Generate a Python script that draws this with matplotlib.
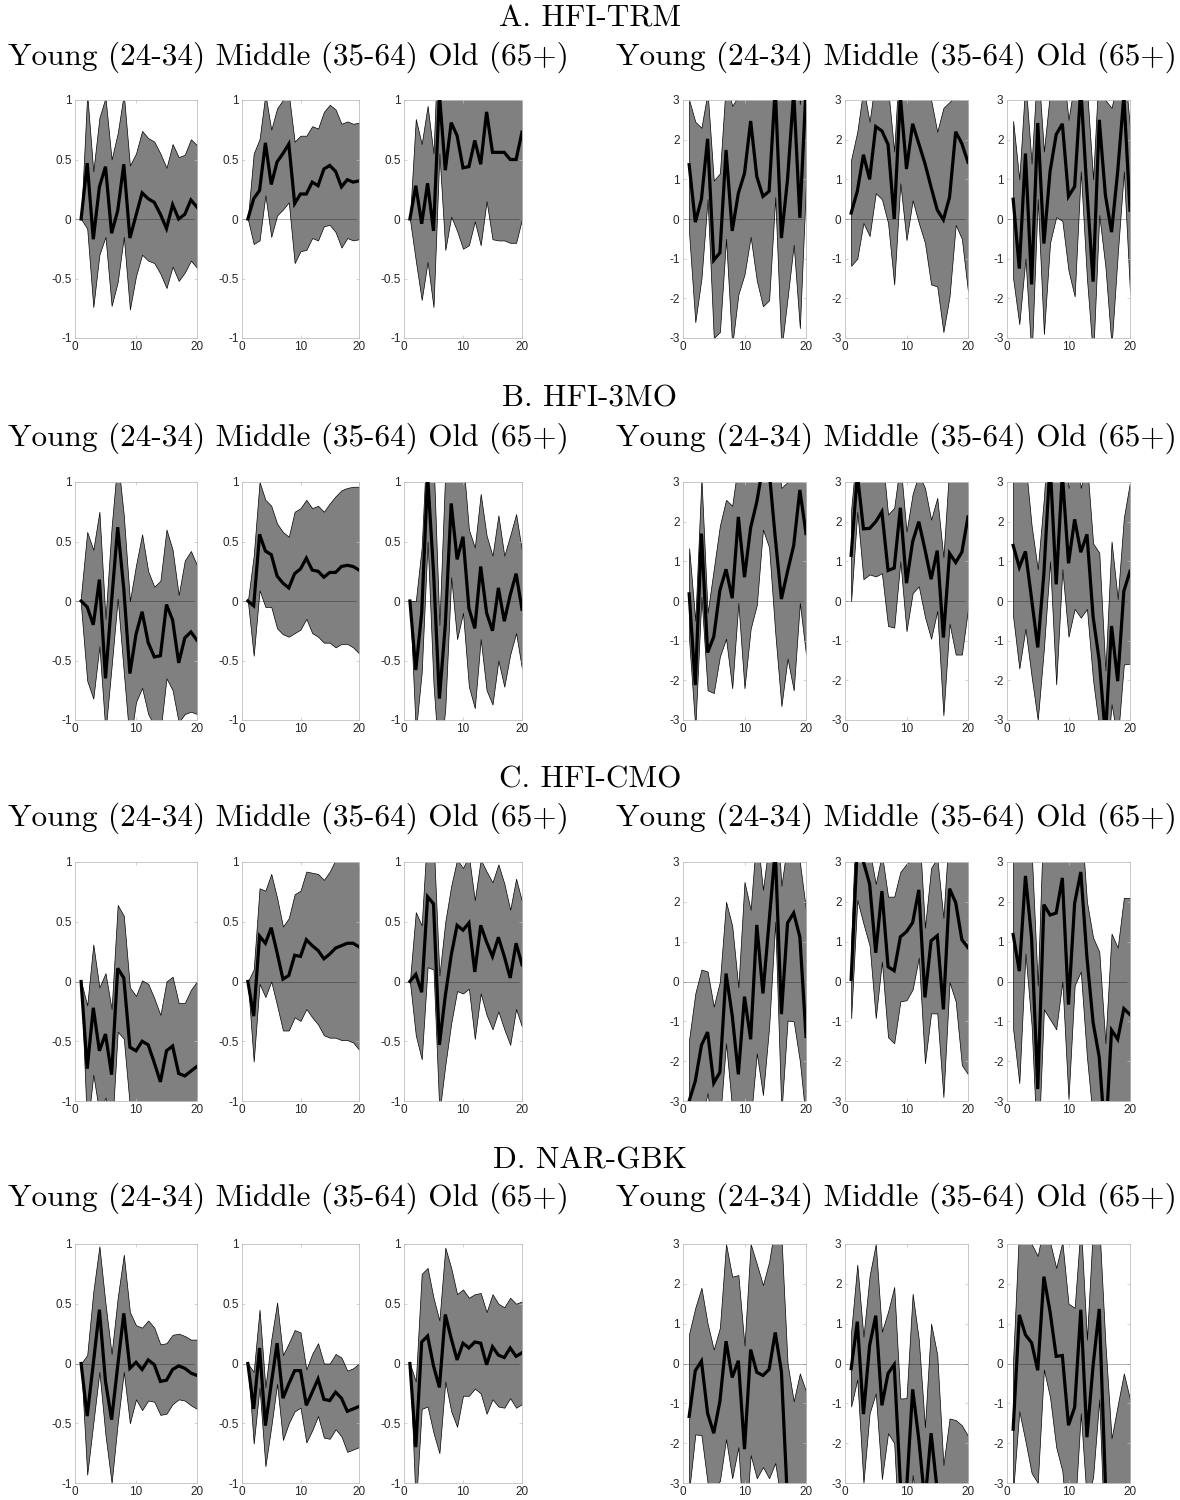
import numpy as np
import matplotlib
matplotlib.use('Agg')
import matplotlib.pyplot as plt
from matplotlib.ticker import FormatStrFormatter

plt.rcParams['axes.unicode_minus'] = False
plt.rcParams['font.family'] = ['Liberation Sans', 'DejaVu Sans']

horizon = np.arange(1, 21)
groups = ['Young (24-34)', 'Middle (35-64)', 'Old (65+)']
panel_titles = ['A. HFI-TRM', 'B. HFI-3MO', 'C. HFI-CMO', 'D. NAR-GBK']

# ---- A. HFI-TRM ----
a_left_irf = [
    [0, 0.47, -0.17, 0.27, 0.44, -0.12, 0.07, 0.46, -0.16, 0.03, 0.22, 0.17, 0.14, 0.04, -0.08, 0.12, 0.0, 0.04, 0.16, 0.10],
    [0, 0.17, 0.24, 0.64, 0.29, 0.48, 0.55, 0.63, 0.13, 0.21, 0.21, 0.31, 0.28, 0.42, 0.45, 0.40, 0.27, 0.33, 0.31, 0.32],
    [0, 0.28, -0.04, 0.30, -0.10, 1.05, 0.41, 0.81, 0.70, 0.43, 0.44, 0.66, 0.46, 0.90, 0.56, 0.56, 0.56, 0.50, 0.50, 0.73],
]
a_left_lo = [
    [0, -0.08, -0.74, -0.30, -0.15, -0.73, -0.53, -0.15, -0.76, -0.48, -0.30, -0.35, -0.37, -0.46, -0.58, -0.40, -0.52, -0.45, -0.35, -0.41],
    [0, -0.21, -0.18, 0.20, -0.15, 0.03, 0.08, 0.14, -0.37, -0.27, -0.26, -0.16, -0.18, -0.06, -0.05, -0.11, -0.24, -0.16, -0.18, -0.17],
    [0, -0.35, -0.68, -0.36, -0.74, 0.55, -0.26, 0.02, -0.10, -0.25, -0.22, -0.02, -0.22, 0.15, -0.17, -0.18, -0.18, -0.20, -0.20, 0.0],
]
a_left_hi = [
    [0, 1.05, 0.40, 0.85, 1.02, 0.50, 0.72, 1.05, 0.45, 0.55, 0.74, 0.68, 0.65, 0.55, 0.43, 0.63, 0.52, 0.54, 0.67, 0.62],
    [0, 0.55, 0.67, 1.05, 0.75, 0.93, 1.00, 1.05, 0.65, 0.70, 0.70, 0.78, 0.76, 0.90, 0.96, 0.92, 0.80, 0.82, 0.80, 0.81],
    [0, 0.84, 0.63, 0.95, 0.55, 1.80, 1.50, 1.60, 1.50, 1.40, 1.40, 1.50, 1.40, 1.60, 1.40, 1.40, 1.40, 1.40, 1.40, 1.50],
]
a_right_irf = [
    [1.37, -0.08, 0.50, 2.02, -1.04, -0.85, 1.74, -0.30, 0.65, 1.15, 2.47, 1.07, 0.57, 0.70, 3.30, -0.48, 1.00, 3.20, 0.03, 3.30],
    [0.15, 0.70, 1.62, 1.00, 2.33, 2.22, 1.88, 0.00, 3.10, 1.26, 2.40, 1.90, 1.40, 0.80, 0.23, -0.02, 0.55, 2.20, 1.90, 1.43],
    [0.50, -1.25, 1.65, -1.65, 2.42, -0.62, 1.20, 2.13, 2.40, 0.57, 0.82, 3.30, 0.70, -1.58, 2.50, 0.60, -0.33, 1.20, 3.10, 0.22],
]
a_right_lo = [
    [-0.38, -2.60, -1.50, 0.50, -3.00, -2.85, -0.50, -3.20, -1.90, -1.40, -0.45, -1.55, -2.20, -2.05, 0.55, -3.30, -2.00, -0.65, -2.75, 0.90],
    [-1.18, -1.00, -0.10, -0.43, 0.65, 0.50, -0.10, -1.65, 0.90, -0.53, 0.47, -0.10, -0.60, -1.65, -1.70, -2.85, -1.95, -0.15, -0.50, -1.83],
    [-1.50, -2.65, -1.00, -3.50, 0.50, -2.90, -0.60, 0.05, -0.05, -1.30, -1.95, 1.20, -1.50, -3.50, 0.10, -1.20, -3.20, -0.90, 1.20, -1.85],
]
a_right_hi = [
    [3.00, 2.45, 2.30, 3.20, 0.97, 1.15, 3.50, 2.85, 3.10, 3.50, 4.00, 3.80, 3.20, 3.50, 5.00, 3.20, 3.50, 5.00, 2.90, 5.00],
    [1.50, 2.20, 3.30, 2.45, 3.60, 3.50, 3.30, 1.70, 4.50, 3.00, 3.50, 3.30, 3.20, 3.00, 2.20, 2.80, 2.95, 3.10, 3.30, 3.50],
    [2.47, 1.00, 3.50, 1.40, 4.00, 1.70, 3.20, 3.50, 4.00, 2.50, 3.50, 5.00, 3.30, 1.00, 4.00, 3.00, 2.80, 3.50, 4.00, 2.30],
]

# ---- B. HFI-3MO ----
b_left_irf = [
    [0, -0.05, -0.20, 0.18, -0.65, 0.00, 0.62, 0.10, -0.61, -0.28, -0.09, -0.35, -0.47, -0.46, -0.03, -0.16, -0.52, -0.31, -0.26, -0.33],
    [0, -0.04, 0.56, 0.42, 0.39, 0.21, 0.15, 0.11, 0.23, 0.27, 0.36, 0.26, 0.25, 0.20, 0.24, 0.24, 0.29, 0.30, 0.29, 0.26],
    [0, -0.58, -0.10, 1.05, 0.25, -0.82, -0.20, 0.82, 0.35, 0.54, -0.06, -0.23, 0.29, -0.10, -0.25, 0.11, -0.17, 0.05, 0.23, -0.07],
]
b_left_lo = [
    [-0.05, -0.67, -0.82, -0.38, -1.10, -0.55, 0.02, -0.60, -1.20, -0.85, -0.73, -0.95, -1.05, -1.10, -0.65, -0.75, -1.02, -0.95, -0.93, -0.95],
    [0, -0.46, 0.09, -0.05, -0.05, -0.23, -0.28, -0.30, -0.27, -0.24, -0.15, -0.27, -0.30, -0.35, -0.35, -0.39, -0.36, -0.36, -0.39, -0.44],
    [0, -1.10, -0.60, 0.50, -0.70, -1.40, -0.90, 0.20, -0.32, -0.10, -0.72, -0.90, -0.32, -0.75, -0.87, -0.50, -0.72, -0.45, -0.27, -0.57],
]
b_left_hi = [
    [0.05, 0.58, 0.43, 0.75, -0.15, 0.62, 1.20, 0.72, 0.00, 0.30, 0.56, 0.25, 0.12, 0.17, 0.60, 0.43, 0.05, 0.34, 0.42, 0.30],
    [0, 0.38, 1.00, 0.85, 0.80, 0.65, 0.58, 0.54, 0.75, 0.78, 0.85, 0.78, 0.80, 0.75, 0.82, 0.88, 0.93, 0.95, 0.96, 0.96],
    [0, 0.00, 0.45, 1.50, 1.20, -0.20, 1.10, 1.50, 1.30, 1.20, 0.60, 0.45, 0.90, 0.55, 0.38, 0.72, 0.38, 0.55, 0.73, 0.42],
]
b_right_irf = [
    [0.18, -2.12, 1.70, -1.30, -0.90, 0.27, 0.80, 0.07, 2.12, 0.60, 1.85, 2.50, 3.40, 3.30, 1.60, 0.05, 0.75, 1.40, 2.80, 1.70],
    [1.15, 3.20, 1.82, 1.83, 2.00, 2.25, 0.77, 0.83, 2.35, 0.45, 1.50, 2.00, 1.30, 0.55, 1.27, -0.92, 1.20, 0.97, 1.23, 2.12],
    [1.40, 0.85, 1.25, 0.05, -1.17, 0.70, 3.50, 0.42, 3.20, 0.95, 2.06, 1.23, 1.68, -0.40, -1.50, -3.40, -0.63, -2.02, 0.25, 0.75],
]
b_right_lo = [
    [-1.00, -3.20, 0.10, -2.25, -2.32, -1.40, -0.95, -2.20, -0.05, -2.20, -0.70, -0.10, 1.80, 1.35, -0.80, -2.65, -1.45, -2.25, -0.05, -1.35],
    [0.00, 2.25, 0.55, 0.67, 0.62, 0.70, -0.63, -0.67, 1.00, -0.76, 0.20, 0.37, -0.40, -0.95, -0.25, -2.88, -0.57, -1.35, -1.35, -0.20],
    [-0.40, -1.70, -0.70, -1.90, -3.00, -1.20, 1.00, -2.10, 0.80, -0.90, -0.20, -0.42, -0.20, -2.00, -3.20, -4.50, -2.60, -3.50, -1.60, -1.58],
]
b_right_hi = [
    [1.33, -0.50, 3.10, -0.30, 0.80, 1.90, 2.55, 2.40, 3.50, 3.30, 3.60, 4.00, 5.00, 5.00, 4.00, 2.85, 3.00, 3.40, 4.00, 3.50],
    [2.30, 4.00, 3.50, 3.30, 3.40, 3.80, 2.18, 2.35, 3.50, 1.75, 2.70, 3.20, 2.85, 2.05, 2.60, 1.10, 3.50, 3.30, 3.20, 4.00],
    [3.20, 3.00, 3.50, 1.90, 0.80, 2.60, 5.00, 3.30, 5.00, 2.85, 4.00, 2.85, 3.50, 1.45, 1.22, -1.75, 1.50, 0.05, 2.10, 3.00],
]

# ---- C. HFI-CMO ----
c_left_irf = [
    [0, -0.73, -0.22, -0.58, -0.44, -0.78, 0.11, 0.03, -0.55, -0.58, -0.50, -0.53, -0.68, -0.84, -0.58, -0.54, -0.77, -0.79, -0.75, -0.71],
    [0, -0.29, 0.38, 0.32, 0.45, 0.24, 0.02, 0.05, 0.22, 0.21, 0.35, 0.30, 0.26, 0.19, 0.23, 0.28, 0.30, 0.32, 0.32, 0.29],
    [0, 0.06, -0.09, 0.71, 0.65, -0.53, -0.12, 0.22, 0.47, 0.43, 0.49, 0.08, 0.47, 0.33, 0.21, 0.37, 0.21, 0.03, 0.32, 0.14],
]
c_left_lo = [
    [0, -1.25, -0.78, -1.10, -0.97, -1.30, -0.42, -0.48, -1.05, -1.10, -1.05, -1.05, -1.20, -1.40, -1.20, -1.10, -1.30, -1.35, -1.35, -1.30],
    [0, -0.67, -0.02, -0.13, 0.00, -0.20, -0.41, -0.41, -0.30, -0.33, -0.23, -0.30, -0.36, -0.45, -0.47, -0.47, -0.49, -0.49, -0.51, -0.57],
    [0, -0.45, -0.65, 0.12, 0.10, -1.10, -0.70, -0.35, -0.08, -0.10, -0.06, -0.48, -0.10, -0.28, -0.40, -0.25, -0.40, -0.53, -0.23, -0.38],
]
c_left_hi = [
    [0, -0.20, 0.31, -0.05, 0.07, -0.23, 0.64, 0.55, -0.05, -0.12, 0.01, -0.02, -0.14, -0.28, 0.00, 0.04, -0.18, -0.18, -0.07, 0.00],
    [0, 0.10, 0.78, 0.76, 0.90, 0.70, 0.46, 0.53, 0.73, 0.76, 0.92, 0.91, 0.90, 0.85, 0.92, 1.02, 1.10, 1.10, 1.10, 1.10],
    [0, 0.58, 0.47, 1.30, 1.20, 0.05, 0.50, 0.80, 1.02, 0.95, 1.05, 0.68, 1.02, 0.92, 0.83, 0.98, 0.82, 0.60, 0.86, 0.67],
]
c_right_irf = [
    [-3.00, -2.50, -1.60, -1.27, -2.55, -2.28, 0.20, -0.85, -2.33, -0.38, -1.45, 1.42, -0.30, 1.50, 3.30, -0.82, 1.47, 1.72, 1.12, -1.38],
    [0.05, 3.40, 3.00, 2.45, 0.72, 2.27, 0.37, 0.27, 1.12, 1.25, 1.48, 2.30, -0.40, 1.02, 1.15, -0.70, 2.33, 1.98, 1.05, 0.85],
    [1.18, 0.26, 2.65, 1.10, -2.70, 1.93, 1.67, 1.72, 2.60, -0.58, 1.97, 2.75, 0.60, -1.03, -1.90, -4.00, -1.22, -1.45, -0.68, -0.83],
]
c_right_lo = [
    [-4.50, -4.00, -3.50, -2.80, -4.00, -3.50, -1.55, -3.20, -4.00, -3.20, -3.50, -1.80, -2.85, -1.15, 1.50, -3.30, -0.98, -1.00, -2.00, -3.50],
    [-0.92, 2.05, 1.45, 0.90, -0.92, 0.50, -1.40, -1.55, -0.50, -0.47, -0.20, 0.60, -2.05, -0.80, -0.80, -2.90, -0.02, -0.50, -2.10, -2.33],
    [-1.20, -2.55, 0.70, -1.10, -4.50, -0.70, -0.95, -1.20, 0.00, -2.95, -0.10, 0.25, -1.90, -3.50, -4.00, -6.00, -3.50, -3.50, -3.50, -3.60],
]
c_right_hi = [
    [-1.45, -0.30, 0.30, 0.25, -0.63, 0.00, 2.00, 1.40, -0.15, 2.50, 1.80, 3.80, 2.30, 3.50, 5.00, 2.40, 3.50, 3.50, 3.00, 1.80],
    [1.00, 5.00, 5.00, 3.30, 2.45, 3.20, 2.13, 2.13, 2.75, 2.95, 3.10, 4.00, 1.35, 2.85, 3.10, 1.60, 4.00, 4.00, 4.00, 4.00],
    [3.50, 3.00, 4.00, 3.30, -0.10, 4.50, 4.00, 4.00, 4.50, 3.50, 4.00, 4.20, 2.00, 1.10, 0.75, -1.55, 1.20, 0.85, 2.10, 2.10],
]

# ---- D. NAR-GBK ----
d_left_irf = [
    [0, -0.44, 0.00, 0.45, -0.15, -0.47, -0.02, 0.42, -0.04, 0.01, -0.05, 0.03, -0.01, -0.15, -0.14, -0.05, -0.02, -0.04, -0.08, -0.10],
    [0, -0.38, 0.13, -0.52, -0.17, 0.17, -0.29, -0.17, -0.06, -0.06, -0.35, -0.24, -0.13, -0.30, -0.31, -0.24, -0.29, -0.40, -0.38, -0.36],
    [0, -0.70, 0.18, 0.23, -0.02, -0.20, 0.41, 0.21, 0.03, 0.17, 0.13, 0.18, 0.17, -0.01, 0.14, 0.07, 0.05, 0.13, 0.06, 0.09],
]
d_left_lo = [
    [0, -0.93, -0.50, -0.07, -0.60, -1.00, -0.50, -0.07, -0.50, -0.30, -0.39, -0.31, -0.32, -0.43, -0.42, -0.34, -0.30, -0.31, -0.35, -0.38],
    [0, -0.67, -0.20, -0.86, -0.53, -0.17, -0.64, -0.50, -0.40, -0.37, -0.66, -0.56, -0.44, -0.62, -0.63, -0.55, -0.61, -0.74, -0.72, -0.70],
    [0, -1.20, -0.38, -0.36, -0.58, -0.75, -0.15, -0.40, -0.53, -0.27, -0.27, -0.21, -0.25, -0.42, -0.30, -0.36, -0.37, -0.29, -0.37, -0.34],
]
d_left_hi = [
    [0, 0.07, 0.60, 0.98, 0.50, 0.08, 0.55, 0.91, 0.43, 0.32, 0.30, 0.36, 0.30, 0.16, 0.17, 0.24, 0.25, 0.23, 0.20, 0.20],
    [0, -0.07, 0.45, -0.20, 0.20, 0.51, 0.07, 0.17, 0.28, 0.26, -0.05, 0.08, 0.17, 0.00, 0.00, 0.08, 0.05, -0.06, -0.04, 0.00],
    [0, -0.15, 0.75, 0.80, 0.55, 0.36, 0.97, 0.80, 0.58, 0.62, 0.55, 0.58, 0.59, 0.43, 0.58, 0.50, 0.47, 0.55, 0.50, 0.52],
]
d_right_irf = [
    [-1.33, -0.18, 0.06, -1.25, -1.75, -0.95, 0.56, -0.35, 0.07, -2.15, 0.35, -0.22, -0.30, -0.15, 0.78, -0.20, -3.50, -4.00, -4.00, -4.00],
    [-0.13, 1.05, -1.27, 0.45, 1.20, -1.05, -0.25, -0.03, -3.00, -3.20, -0.65, -1.90, -3.50, -1.75, -3.20, -5.00, -5.00, -5.00, -5.00, -5.00],
    [-1.65, 1.22, 0.72, 0.52, -0.17, 2.18, 1.30, 0.18, 0.20, -1.55, -1.10, 1.35, -1.85, -0.05, 1.37, -3.00, -5.00, -5.00, -5.00, -5.00],
]
d_right_lo = [
    [-3.20, -1.78, -1.80, -3.00, -3.10, -2.95, -1.90, -2.88, -2.10, -4.50, -2.30, -2.88, -2.60, -2.88, -2.50, -3.50, -7.00, -7.00, -7.00, -7.00],
    [-1.08, -0.40, -3.00, -1.25, -0.75, -2.90, -1.75, -2.00, -5.00, -5.00, -2.80, -4.00, -5.00, -4.00, -5.00, -7.00, -7.00, -7.00, -7.00, -7.00],
    [-3.20, -1.20, -1.95, -2.75, -3.00, -0.15, -0.85, -2.10, -2.70, -4.50, -3.80, -1.25, -3.50, -2.85, -0.90, -5.00, -7.00, -7.00, -7.00, -7.00],
]
d_right_hi = [
    [0.75, 1.40, 1.90, 1.00, 0.35, 0.90, 3.00, 2.18, 2.22, 0.45, 3.00, 2.50, 1.97, 2.55, 3.50, 3.20, 0.00, -0.95, -0.25, -0.70],
    [0.80, 2.48, 0.67, 2.20, 3.00, 0.80, 1.30, 1.92, -0.88, -0.87, 1.75, 0.60, -1.60, 1.00, 0.22, -2.55, -1.38, -1.42, -1.55, -1.82],
    [0.10, 3.50, 3.50, 3.00, 2.70, 3.50, 3.05, 2.40, 3.05, 1.50, 1.40, 3.50, 0.60, 3.50, 3.50, 0.50, -1.88, -1.05, -0.25, -0.90],
]

panels = [
    (a_left_irf, a_left_lo, a_left_hi, a_right_irf, a_right_lo, a_right_hi),
    (b_left_irf, b_left_lo, b_left_hi, b_right_irf, b_right_lo, b_right_hi),
    (c_left_irf, c_left_lo, c_left_hi, c_right_irf, c_right_lo, c_right_hi),
    (d_left_irf, d_left_lo, d_left_hi, d_right_irf, d_right_lo, d_right_hi),
]

W, H = 1180, 1500
fig = plt.figure(figsize=(W / 100, H / 100), dpi=100)

# pixel boxes of the subplot columns and panel rows
left_cols = [(75, 197), (242, 359), (404, 522)]
right_cols = [(683, 806), (845, 968), (1007, 1130)]
rows = [(100, 338), (482, 720), (862, 1101), (1244, 1483)]
title_y = [19, 399, 780, 1161]
sub_y = [57, 438, 818, 1198]


def add_box(x0, x1, y0, y1):
    return fig.add_axes([x0 / W, 1 - y1 / H, (x1 - x0) / W, (y1 - y0) / H])


def draw_irf(ax, irf, lo, hi, lim):
    ax.fill_between(horizon, lo, hi, facecolor='#808080', edgecolor='black', linewidth=0.5, zorder=1)
    ax.axhline(0, color='black', linewidth=0.7, alpha=0.3, zorder=2)
    ax.plot(horizon, irf, color='black', linewidth=2.3, zorder=3, solid_joinstyle='miter')
    ax.set_xlim(0, 20)
    ax.set_ylim(-lim, lim)
    ax.set_xticks([0, 10, 20])
    if lim == 1:
        ax.set_yticks([-1, -0.5, 0, 0.5, 1])
    else:
        ax.set_yticks([-3, -2, -1, 0, 1, 2, 3])
    ax.yaxis.set_major_formatter(FormatStrFormatter('%g'))
    ax.tick_params(direction='in', length=2.5, width=0.5, labelsize=8.5,
                   colors='#c0c0c0', labelcolor='#262626', top=True, right=True, pad=2.5)
    for sp in ax.spines.values():
        sp.set_color('#c0c0c0')
        sp.set_linewidth(0.6)


for p, data in enumerate(panels):
    l_irf, l_lo, l_hi, r_irf, r_lo, r_hi = data
    y0, y1 = rows[p]
    for j in range(3):
        ax = add_box(*left_cols[j], y0, y1)
        draw_irf(ax, l_irf[j], l_lo[j], l_hi[j], 1)
        ax = add_box(*right_cols[j], y0, y1)
        draw_irf(ax, r_irf[j], r_lo[j], r_hi[j], 3)

    fig.text(0.5, 1 - title_y[p] / H, panel_titles[p], ha='center', va='center',
             family='cmr10', fontsize=22.5)
    label = ' '.join(groups)
    fig.text(288 / W, 1 - sub_y[p] / H, label, ha='center', va='center',
             family='cmr10', fontsize=22.5)
    fig.text(896 / W, 1 - sub_y[p] / H, label, ha='center', va='center',
             family='cmr10', fontsize=22.5)

fig.savefig('out.png', dpi=100, facecolor='white')
